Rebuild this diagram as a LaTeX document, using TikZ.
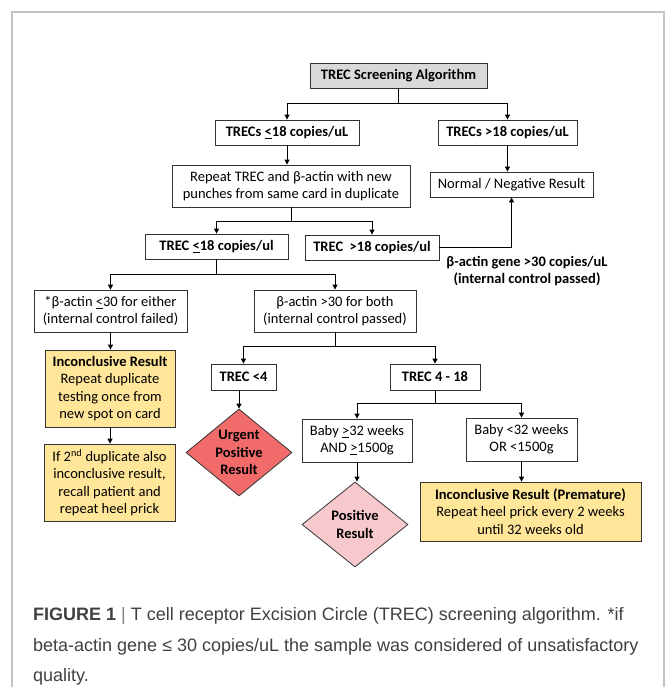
\documentclass[tikz,border=0pt]{standalone}
\usepackage{fontspec}
\setmainfont{Carlito}
\newfontfamily\capfont{Liberation Sans}
\usetikzlibrary{positioning, shapes.geometric, arrows.meta, calc}

\definecolor{titlegray}{HTML}{D9D9D9}
\definecolor{noteyellow}{HTML}{FFE699}
\definecolor{urgentred}{HTML}{F26B6B}
\definecolor{positivepink}{HTML}{F8C9CC}
\definecolor{framegray}{HTML}{C4C4C4}
\definecolor{captext}{HTML}{404040}

\newcommand{\boxfont}{\fontsize{14.5}{17.2}\selectfont}
\newcommand{\ult}{\underline{<}}
\newcommand{\ugt}{\underline{>}}

\begin{document}
\begin{tikzpicture}[
    x=1pt, y=-1pt,
    box/.style={
        draw=black!80,
        rectangle,
        line width=0.8pt,
        align=center,
        fill=white,
        inner sep=2pt,
        font=\boxfont
    },
    boldbox/.style={
        box,
        font=\boxfont\bfseries
    },
    result/.style={
        box,
        fill=noteyellow
    },
    decision/.style={
        diamond,
        draw=black!80,
        line width=0.8pt,
        inner sep=0pt,
        minimum width=106pt,
        minimum height=87pt
    },
    arrow/.style={
        -{Triangle[length=5pt, width=5pt]},
        line width=0.9pt
    },
    link/.style={
        line width=0.9pt
    },
    caption/.style={
        anchor=base west,
        inner sep=0pt,
        text=captext,
        font=\capfont\fontsize{18}{31}\selectfont
    }
]
\useasboundingbox (0,0) rectangle (665,687);

% Frame
\draw[framegray, line width=1.5pt] (12,687) -- (12,12) -- (664,12) -- (664,687);

% First screening
\node[boldbox, fill=titlegray, minimum width=177pt, minimum height=25pt] (title) at (398.5,75.5) {TREC Screening Algorithm};
\node[boldbox, minimum width=144pt, minimum height=25pt] (lowA) at (287,132.5) {TRECs \ult18 copies/uL};
\node[boldbox, minimum width=139pt, minimum height=25pt] (highA) at (507.5,132.5) {TRECs >18 copies/uL};
\node[box, minimum width=238pt, minimum height=42pt] (repeat) at (291,186) {Repeat TREC and β-actin with new\\punches from same card in duplicate};
\node[box, minimum width=163pt, minimum height=25pt] (normal) at (511.5,184.5) {Normal / Negative Result};

% Repeat testing
\node[boldbox, minimum width=143pt, minimum height=25pt] (lowB) at (216.5,246.5) {TREC \ult18 copies/ul};
\node[boldbox, minimum width=134pt, minimum height=25pt] (highB) at (372,247.5) {TREC~ >18 copies/ul};
\node[align=center, font=\boxfont\bfseries] (passLabel) at (527,271) {β-actin gene >30 copies/uL\\(internal control passed)};

\node[box, minimum width=153pt, minimum height=42pt] (failC) at (110.5,311) {*β-actin \ult30 for either\\(internal control failed)};
\node[box, minimum width=162pt, minimum height=42pt] (passC) at (335,311) {β-actin >30 for both\\(internal control passed)};

% Internal control failed
\node[result, minimum width=130pt, minimum height=77pt] (inconc) at (110,388.5) {\textbf{Inconclusive Result}\\Repeat duplicate\\testing once from\\new spot on card};
\node[result, minimum width=131pt, minimum height=77pt] (recall) at (109.5,482.5) {If 2\textsuperscript{nd} duplicate also\\inconclusive result,\\recall patient and\\repeat heel prick};

% Internal control passed
\node[boldbox, minimum width=65pt, minimum height=26pt] (trecLow) at (243.5,377) {TREC <4};
\node[boldbox, minimum width=90pt, minimum height=26pt] (trecMid) at (435,377) {TREC 4 - 18};
\node[decision, fill=urgentred, label={[align=center, font=\boxfont\bfseries]center:Urgent\\Positive\\Result}] (urgent) at (239,452.5) {};

\node[box, minimum width=110pt, minimum height=43pt] (babyHi) at (357,440.5) {Baby \ugt32 weeks\\AND \ugt1500g};
\node[box, minimum width=111pt, minimum height=43pt] (babyLo) at (521.5,439.5) {Baby <32 weeks\\OR <1500g};
\node[decision, fill=positivepink, minimum height=85pt, label={[align=center, font=\boxfont\bfseries]center:Positive\\Result}] (positive) at (355,524.5) {};
\node[result, minimum width=221pt, minimum height=59pt] (premature) at (530.5,511.5) {\textbf{Inconclusive Result (Premature)}\\Repeat heel prick every 2 weeks\\until 32 weeks old};

% Connections
\draw[link] (title.south) -- ++(0,15) coordinate (splitA);
\draw[arrow] (splitA) -| (lowA.north);
\draw[arrow] (splitA) -| (highA.north);
\draw[arrow] (lowA.south) -- (lowA.south |- repeat.north);
\draw[arrow] (highA.south) -- (highA.south |- normal.north);

\draw[link] (repeat.south) -- ++(0,14) coordinate (splitB);
\draw[arrow] (splitB) -| (lowB.north);
\draw[arrow] (splitB) -| (highB.north);
\draw[arrow] (highB.east) -| (normal.south);

\draw[link] (lowB.south) -- ++(0,15) coordinate (splitC);
\draw[arrow] (splitC) -| (failC.north);
\draw[arrow] (splitC) -| (passC.north);
\draw[arrow] (failC.south) -- (failC.south |- inconc.north);
\draw[arrow] (inconc.south) -- (inconc.south |- recall.north);

\draw[link] (passC.south) -- ++(0,14) coordinate (splitD);
\draw[arrow] (splitD) -| (trecLow.north);
\draw[arrow] (splitD) -| (trecMid.north);
\draw[arrow] (urgent.north |- trecLow.south) -- (urgent.north);

\draw[link] (trecMid.south) -- ++(0,13) coordinate (splitE);
\draw[arrow] (splitE) -| (babyHi.north);
\draw[arrow] (splitE) -| (babyLo.north);
\draw[arrow] (babyHi.south) -- (babyHi.south |- positive.north);
\draw[arrow] (babyLo.south) -- (babyLo.south |- premature.north);

% Caption
\node[caption] (capA) at (33,620) {\textbf{FIGURE 1} {\color{gray}|} T cell receptor Excision Circle (TREC) screening algorithm. *if};
\node[caption] (capB) at (33,651) {beta-actin gene ≤ 30 copies/uL the sample was considered of unsatisfactory};
\node[caption] (capC) at (33,681) {quality.};

\end{tikzpicture}
\end{document}
